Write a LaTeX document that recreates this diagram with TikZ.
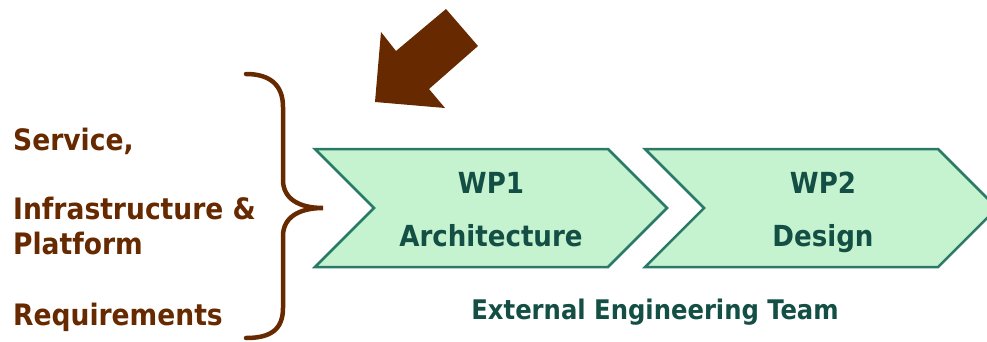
\documentclass[tikz,border=0pt]{standalone}
\usepackage{fontspec}
\setmainfont{DejaVu Sans Condensed}[BoldFont={DejaVu Sans Condensed Bold}]
\definecolor{brown1}{HTML}{662900}
\definecolor{chfill}{HTML}{C6F3CF}
\definecolor{chdraw}{HTML}{2A7A68}
\definecolor{chtext}{HTML}{134F45}
\tikzset{
  lefttxt/.style={anchor=base west, inner sep=0pt, text=brown1, font=\fontsize{29.5}{31}\selectfont\bfseries},
  wptxt/.style={anchor=base, inner sep=0pt, text=chtext, font=\fontsize{29}{31}\selectfont\bfseries},
  chev/.style={fill=chfill, draw=chdraw, line width=2.5pt, line join=miter},
}
\begin{document}
\begin{tikzpicture}[x=1pt,y=-1pt]
\useasboundingbox (0,0) rectangle (987,341);
\clip (0,0) rectangle (987,341);
% big arrow
\fill[brown1] (375,102) -- (381,32) -- (396,51) -- (446,9) -- (478,46) -- (429,89) -- (445,108) -- cycle;
% brace
\draw[brown1, line width=4.5pt, line cap=round]
  (246,74) .. controls (270,74) and (283,85) .. (283,107) -- (283,180)
  .. controls (283,198) and (298,208) .. (323,208)
  .. controls (298,208) and (283,218) .. (283,236) -- (283,308)
  .. controls (283,330) and (270,338) .. (246,338);
% chevrons
\draw[chev] (315,149) -- (608,149) -- (667,208) -- (608,267) -- (315,267) -- (374,208) -- cycle;
\draw[chev] (645,149) -- (938,149) -- (997,208) -- (938,267) -- (645,267) -- (704,208) -- cycle;
% texts
\node[lefttxt] (t1) at (13,150) {Service,};
\node[lefttxt] (t2) at (13,219) {Infrastructure \&};
\node[lefttxt] (t3) at (13,254) {Platform};
\node[lefttxt] (t4) at (13,325) {Requirements};
\node[wptxt] (w1) at (491,193) {WP1};
\node[wptxt] (a1) at (491,246) {Architecture};
\node[wptxt] (w2) at (823,193) {WP2};
\node[wptxt] (d2) at (823,246) {Design};
\node[wptxt, font=\fontsize{27}{29}\selectfont\bfseries] (ext) at (655,319) {External Engineering Team};
\end{tikzpicture}
\end{document}
